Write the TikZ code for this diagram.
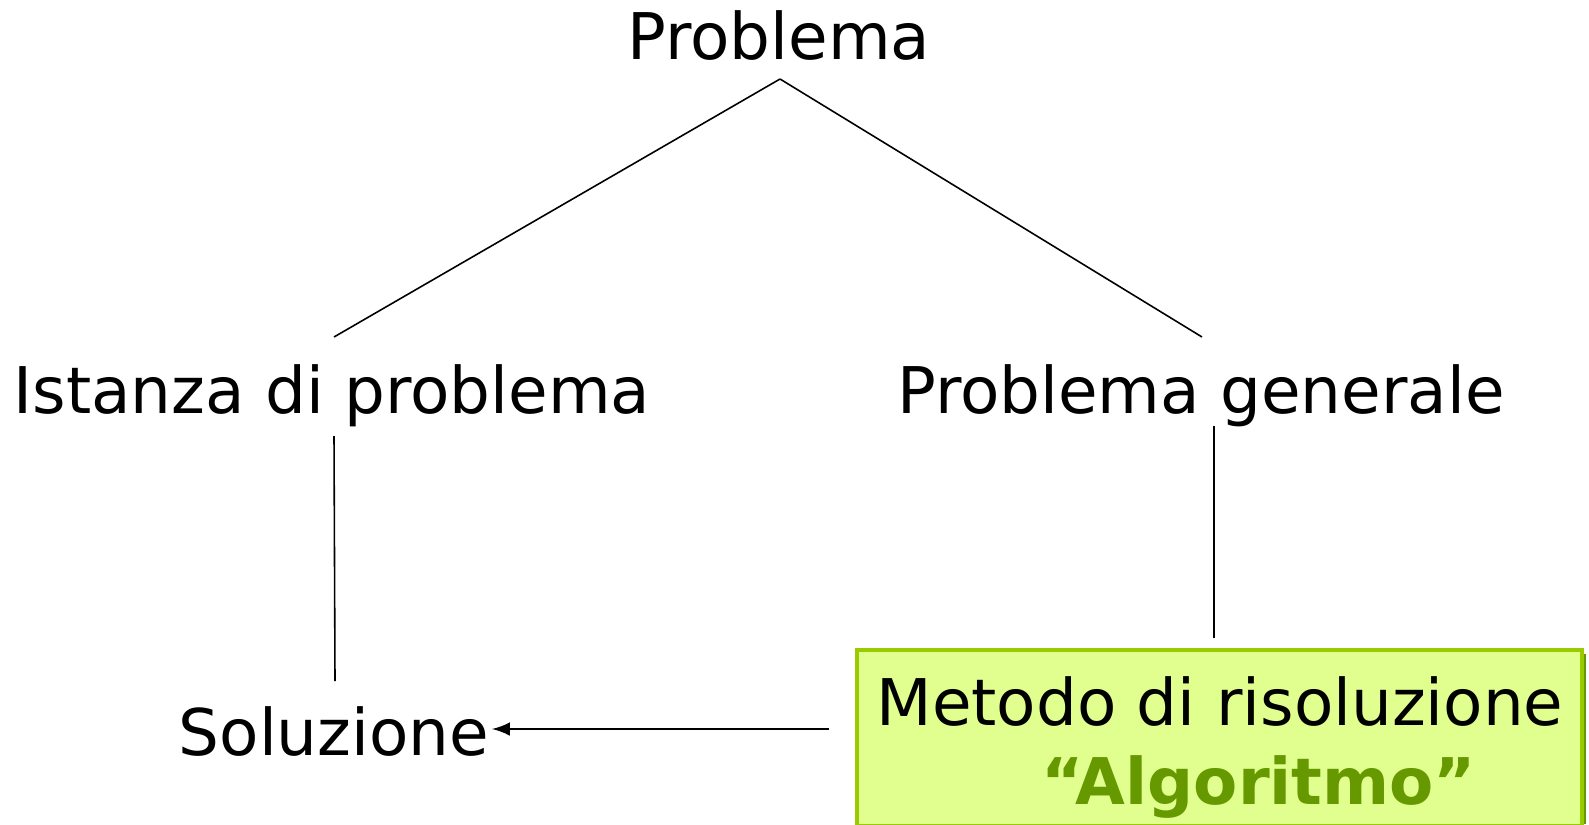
\documentclass[tikz,border=0pt]{standalone}
\usepackage{fontspec}
\setmainfont{DejaVu Sans}
\definecolor{boxfill}{RGB}{224,255,142}
\definecolor{boxline}{RGB}{153,204,0}
\definecolor{boxshadow}{RGB}{102,153,0}
\definecolor{algogreen}{RGB}{102,153,0}
\tikzset{
  label text/.style={anchor=base, inner sep=0pt, font=\fontsize{18.3}{22}\selectfont},
  link/.style={line width=0.45pt}
}
\begin{document}
\begin{tikzpicture}[x=0.01cm, y=-0.01cm]
    \useasboundingbox (0,0) rectangle (1589,824);

    % Boite de la methode (ombre a droite)
    \fill[boxshadow] (861,654) rectangle (1586,824);
    \draw[boxline, fill=boxfill, line width=0.9pt] (857,650) rectangle (1582,826);

    % Textes
    \node[label text] (problema) at (779,59) {Problema};
    \node[label text] (istanza) at (332,413) {Istanza di problema};
    \node[label text] (generale) at (1201,413) {Problema generale};
    \node[label text] (soluzione) at (334,755) {Soluzione};
    \node[label text] (metodo) at (1220,725) {Metodo di risoluzione};
    \node[label text, font=\fontsize{18.3}{22}\selectfont\bfseries, algogreen] (algoritmo) at (1259,804) {“Algoritmo”};

    % Points d'attache des traits
    \coordinate (apex) at (780,79);
    \coordinate (istanza top) at (334,337);
    \coordinate (generale top) at (1202,337);
    \coordinate (istanza bottom) at (334,436);
    \coordinate (soluzione top) at (335,681);
    \coordinate (generale bottom) at (1214,426);
    \coordinate (metodo top) at (1214,638);
    \coordinate (metodo left) at (829,729);
    \coordinate (soluzione right) at (492,729);

    % Arbre
    \draw[link] (apex) -- (istanza top);
    \draw[link] (apex) -- (generale top);
    \draw[link] (istanza bottom) -- (soluzione top);
    \draw[link] (generale bottom) -- (metodo top);

    % Fleche vers la solution
    \draw[line width=0.75pt, ->, >=latex] (metodo left) -- (soluzione right);
\end{tikzpicture}
\end{document}
